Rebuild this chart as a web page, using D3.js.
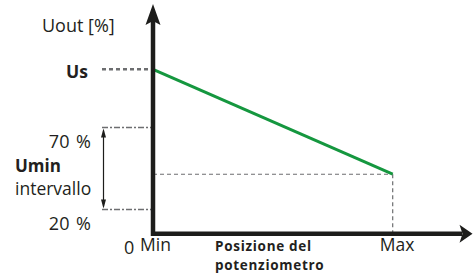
<!DOCTYPE html>
<html>
<head>
    <title>Uout - Posizione del potenziometro</title>
    <script src="https://d3js.org/d3.v7.min.js"></script>
    <style>
        body { margin: 0; background: #fff; }
        text { font-family: "Open Sans", sans-serif; fill: #231f20; }
    </style>
</head>
<body>
    <div id="grafico"></div>
    <script>
        // dati (Uout in %)
        var posizioni = [0, 1];          // Min -> Max
        var uout = [105.5, 41.5];        // linea verde: da Us al valore finale
        var usLivello = 105.5;
        var uminIntervallo = [20, 70];
        var xTickLabels = ["Min", "Max"];
        var uminLabels = ["20 %", "70 %"];

        var width = 473, height = 278;

        var svg = d3.select("#grafico").append("svg")
            .attr("width", width)
            .attr("height", height);

        var x = d3.scaleLinear().domain([0, 1]).range([153, 392.7]);
        var y = d3.scaleLinear().domain([0, 100]).range([242.3, 78.3]);

        var ink = "#1d1d1b";
        var originY = y(5.2);

        // linee guida tratteggiate
        svg.append("line")
            .attr("x1", 102).attr("x2", x(0))
            .attr("y1", y(usLivello)).attr("y2", y(usLivello))
            .attr("stroke", "#6d6e70").attr("stroke-width", 2.5)
            .attr("stroke-dasharray", "4,3");

        svg.selectAll(".umin").data(uminIntervallo).enter()
            .append("line")
            .attr("x1", 102).attr("x2", x(0))
            .attr("y1", function (d) { return y(d); })
            .attr("y2", function (d) { return y(d); })
            .attr("stroke", "#6d6e70").attr("stroke-width", 1.6)
            .attr("stroke-dasharray", "6,2,2,2");

        svg.append("line")
            .attr("x1", x(0)).attr("x2", x(1))
            .attr("y1", y(uout[1])).attr("y2", y(uout[1]))
            .attr("stroke", "#6d6e70").attr("stroke-width", 1.2)
            .attr("stroke-dasharray", "4,3");

        svg.append("line")
            .attr("x1", x(1)).attr("x2", x(1))
            .attr("y1", y(uout[1])).attr("y2", originY)
            .attr("stroke", "#6d6e70").attr("stroke-width", 1.2)
            .attr("stroke-dasharray", "4,3");

        // freccia doppia intervallo Umin
        var ax = 103.5;
        svg.append("line")
            .attr("x1", ax).attr("x2", ax)
            .attr("y1", y(70) + 3).attr("y2", y(20) - 3)
            .attr("stroke", ink).attr("stroke-width", 1.2);
        svg.append("path")
            .attr("d", "M" + ax + "," + (y(70) + 1) + "l-2.5,9h5z" +
                       "M" + ax + "," + (y(20) - 1) + "l-2.5,-9h5z")
            .attr("fill", ink);

        // linea verde
        var line = d3.line()
            .x(function (d, i) { return x(posizioni[i]); })
            .y(function (d) { return y(d); });
        svg.append("path")
            .datum(uout)
            .attr("d", line)
            .attr("fill", "none")
            .attr("stroke", "#15973f")
            .attr("stroke-width", 3);

        // assi
        svg.append("line")
            .attr("x1", x(0)).attr("x2", x(1.29))
            .attr("y1", originY).attr("y2", originY)
            .attr("stroke", ink).attr("stroke-width", 4.5);
        svg.append("line")
            .attr("x1", x(0)).attr("x2", x(0))
            .attr("y1", originY + 2.2).attr("y2", y(135))
            .attr("stroke", ink).attr("stroke-width", 4.5);

        var tipX = x(1.333), tipY = y(145.3);
        svg.append("path")
            .attr("d", "M" + tipX + "," + originY + "l-13,-9l3,9l-3,9z")
            .attr("fill", ink);
        svg.append("path")
            .attr("d", "M" + x(0) + "," + tipY + "l-7.5,21l7.5,-4l7.5,4z")
            .attr("fill", ink);

        // testi
        svg.append("text").attr("x", 42).attr("y", 32)
            .style("font-size", "18px").text("Uout [%]");

        svg.append("text").attr("x", 88).attr("y", y(usLivello) + 9)
            .attr("text-anchor", "end")
            .style("font-size", "17.5px").style("font-weight", "bold").text("Us");

        svg.selectAll(".ulab").data(uminIntervallo).enter()
            .append("text")
            .attr("x", 91)
            .attr("y", function (d) { return y(d) + 20.5; })
            .attr("text-anchor", "end")
            .style("font-size", "18px")
            .style("word-spacing", "2px")
            .text(function (d, i) { return uminLabels[i]; });

        svg.append("text").attr("x", 15).attr("y", 172)
            .style("font-size", "17px").style("font-weight", "bold").text("Umin");
        svg.append("text").attr("x", 15).attr("y", 195)
            .style("font-size", "17.5px").text("intervallo");

        svg.append("text").attr("x", 124).attr("y", 253.5)
            .style("font-size", "18px").text("0");

        svg.selectAll(".xlab").data(posizioni).enter()
            .append("text")
            .attr("x", function (d) { return x(d) - 13; })
            .attr("y", 250.5)
            .style("font-size", "17.5px")
            .text(function (d, i) { return xTickLabels[i]; });

        svg.append("text").attr("x", 215).attr("y", 250.5)
            .style("font-size", "13.5px").style("font-weight", "bold")
            .style("letter-spacing", "0.7px").text("Posizione del");
        svg.append("text").attr("x", 215).attr("y", 269.5)
            .style("font-size", "13.5px").style("font-weight", "bold")
            .style("letter-spacing", "0.7px").text("potenziometro");
    </script>
</body>
</html>
